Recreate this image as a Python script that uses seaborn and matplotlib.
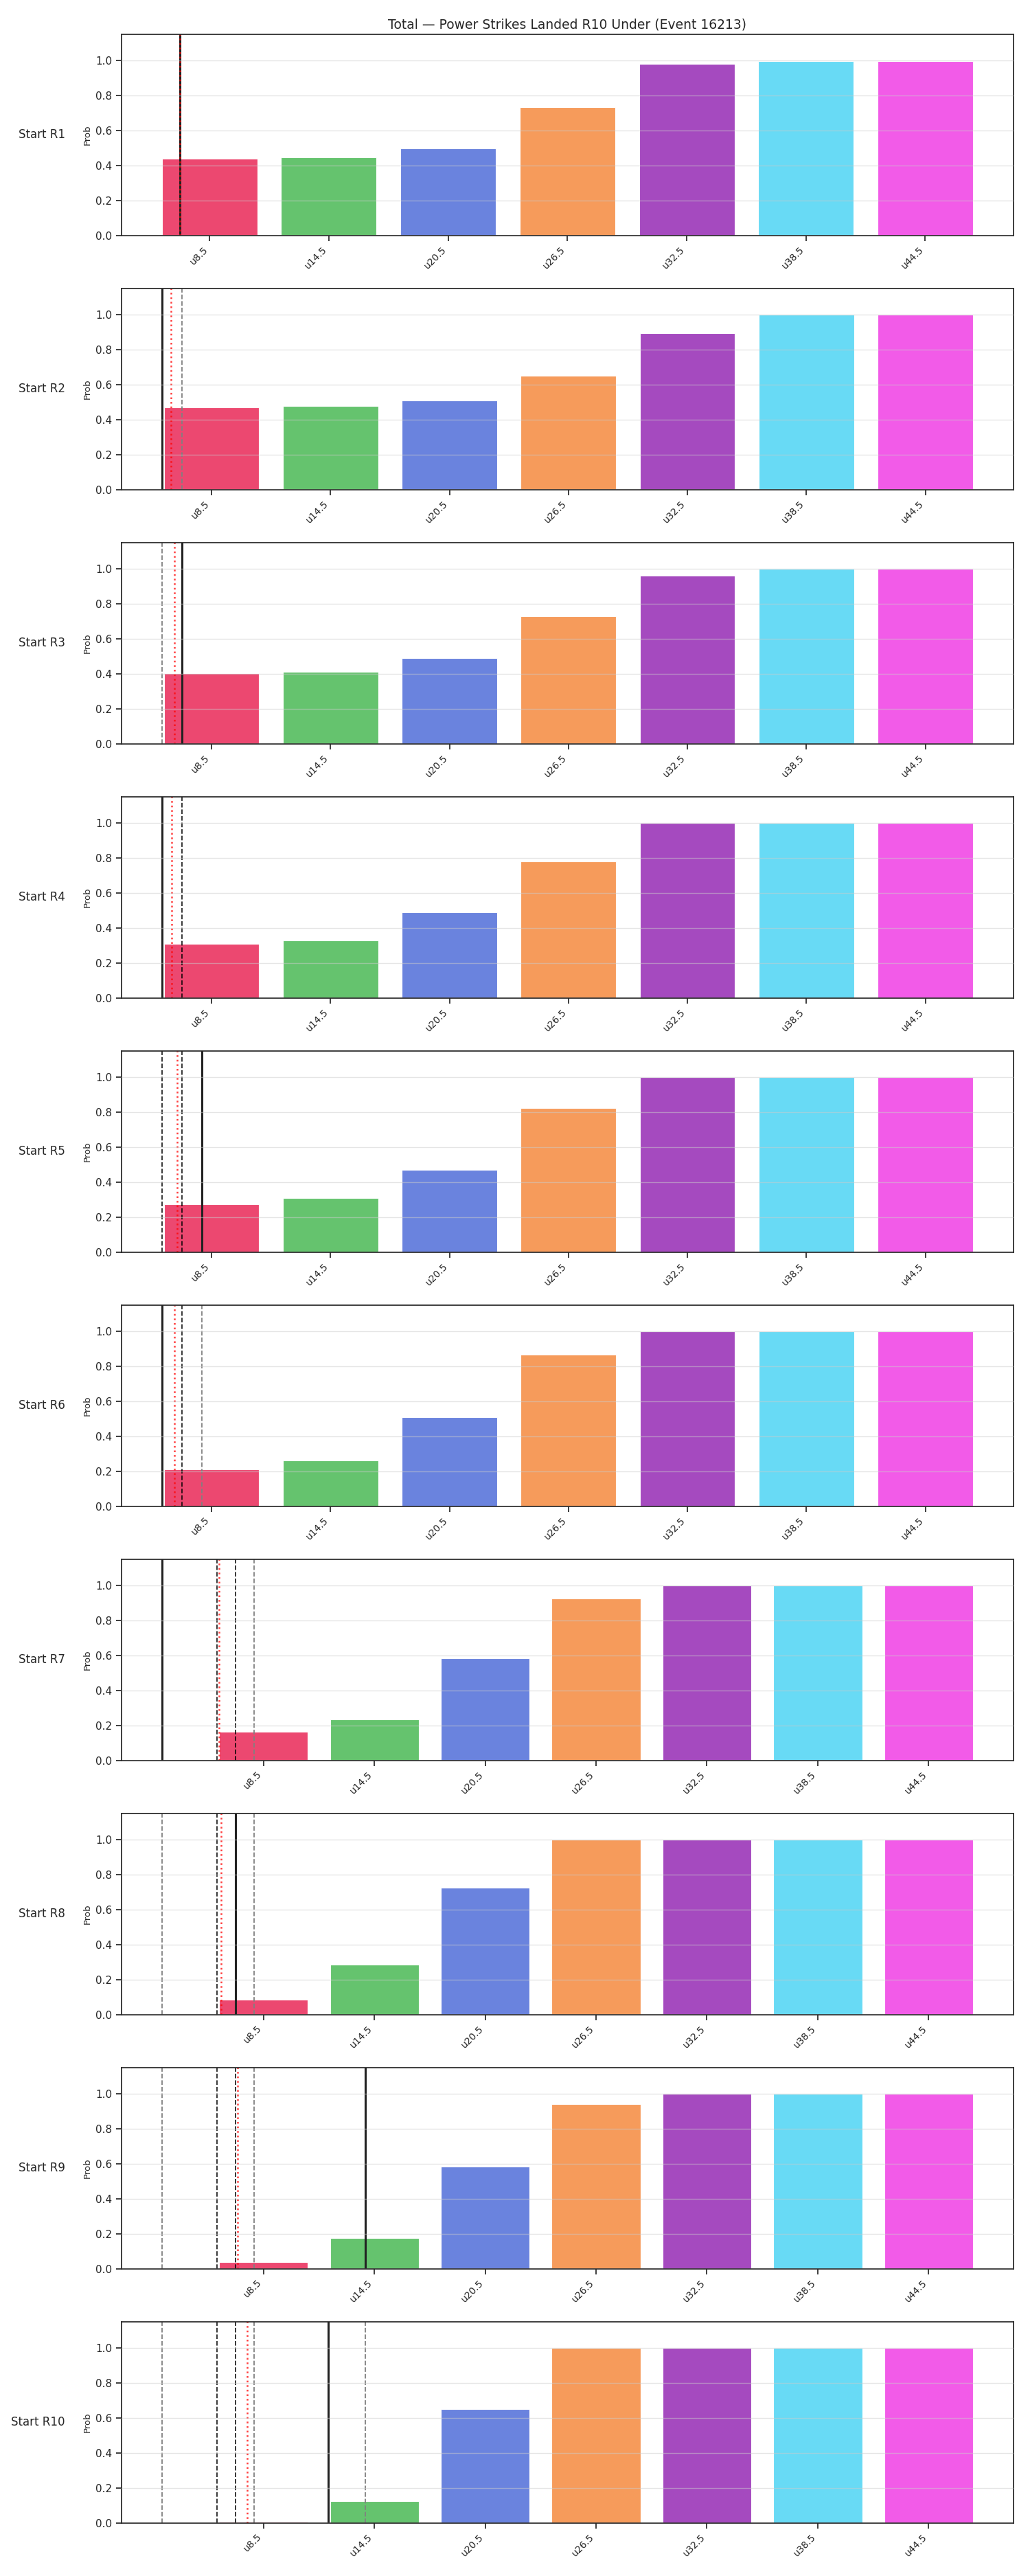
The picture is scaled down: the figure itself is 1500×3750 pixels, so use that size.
import numpy as np
import matplotlib
matplotlib.use("Agg")
import matplotlib.pyplot as plt
import seaborn as sns

# Lines (under thresholds) and bar colours
labels = ["u8.5", "u14.5", "u20.5", "u26.5", "u32.5", "u38.5", "u44.5"]
thresholds = [8.5, 14.5, 20.5, 26.5, 32.5, 38.5, 44.5]
colors = ["#EC4870", "#65C36E", "#6A83DE", "#F69B5B", "#A54ABF", "#68DAF5", "#F25BE8"]

rounds = ["Start R1", "Start R2", "Start R3", "Start R4", "Start R5",
          "Start R6", "Start R7", "Start R8", "Start R9", "Start R10"]

# P(under) per round start
prob_r1 = [0.440, 0.448, 0.498, 0.735, 0.982, 0.997, 0.997]
prob_r2 = [0.472, 0.480, 0.510, 0.650, 0.893, 1.000, 1.000]
prob_r3 = [0.404, 0.412, 0.490, 0.728, 0.962, 1.000, 1.000]
prob_r4 = [0.309, 0.330, 0.490, 0.780, 1.000, 1.000, 1.000]
prob_r5 = [0.274, 0.309, 0.472, 0.825, 1.000, 1.000, 1.000]
prob_r6 = [0.211, 0.263, 0.510, 0.866, 1.000, 1.000, 1.000]
prob_r7 = [0.165, 0.235, 0.585, 0.925, 1.000, 1.000, 1.000]
prob_r8 = [0.085, 0.286, 0.726, 1.000, 1.000, 1.000, 1.000]
prob_r9 = [0.038, 0.176, 0.585, 0.940, 1.000, 1.000, 1.000]
prob_r10 = [0.007, 0.125, 0.650, 1.000, 1.000, 1.000, 1.000]
probs = [prob_r1, prob_r2, prob_r3, prob_r4, prob_r5,
         prob_r6, prob_r7, prob_r8, prob_r9, prob_r10]

# reference lines (in strike counts)
current = [7, 6, 7, 6, 8, 6, 3, 7, 14, 12]
expected = [7, 6.47, 6.64, 6.5, 6.78, 6.64, 6.11, 6.21, 7.08, 7.6]
dark_dashed = [[], [], [], [7], [6, 7], [7], [6, 7], [6], [6, 7], [6, 7]]
gray_dashed = [[], [7], [6], [], [], [8], [8], [3, 8], [3, 8], [3, 8, 14]]


def to_pos(v):
    # map strike count onto the categorical bar axis
    return (v - thresholds[0]) / (thresholds[1] - thresholds[0])


sns.set_theme(style="ticks")

fig, axes = plt.subplots(10, 1, figsize=(15, 37.5), dpi=100)
fig.subplots_adjust(left=0.1178, right=0.984, top=0.9867, bottom=0.0206, hspace=0.263)

for i, ax in enumerate(axes):
    sns.barplot(x=labels, y=probs[i], hue=labels, palette=colors, legend=False,
                saturation=1, edgecolor="white", linewidth=0.8, ax=ax)

    ax.axvline(to_pos(current[i]), color="#222222", lw=2.2, ls="-")
    for v in dark_dashed[i]:
        ax.axvline(to_pos(v), color="black", lw=1.3, ls="--", alpha=0.85)
    for v in gray_dashed[i]:
        ax.axvline(to_pos(v), color="gray", lw=1.3, ls="--")
    ax.axvline(to_pos(expected[i]), color="red", lw=1.8, ls=":", alpha=0.75)

    # x range: bars plus any line left of the first bar
    all_lines = [current[i], expected[i]] + dark_dashed[i] + gray_dashed[i]
    lo = min(-0.4, min(to_pos(v) for v in all_lines))
    hi = len(labels) - 0.6
    pad = 0.05 * (hi - lo)
    ax.set_xlim(lo - pad, hi + pad)
    ax.set_ylim(0, 1.15)
    ax.set_yticks([0.0, 0.2, 0.4, 0.6, 0.8, 1.0])

    ax.set_axisbelow(False)
    ax.grid(axis="y", color="0.8", alpha=0.5, lw=1)
    ax.set_ylabel("Prob", fontsize=9.5)
    ax.set_xlabel("")
    ax.tick_params(axis="x", labelsize=10)
    plt.setp(ax.get_xticklabels(), rotation=45, ha="right")
    ax.text(-0.063, 0.5, rounds[i], transform=ax.transAxes,
            ha="right", va="center", fontsize=12)

axes[0].set_title("Total \u2014 Power Strikes Landed R10 Under (Event 16213)", fontsize=13.5)

fig.savefig("out.png", dpi=100)
